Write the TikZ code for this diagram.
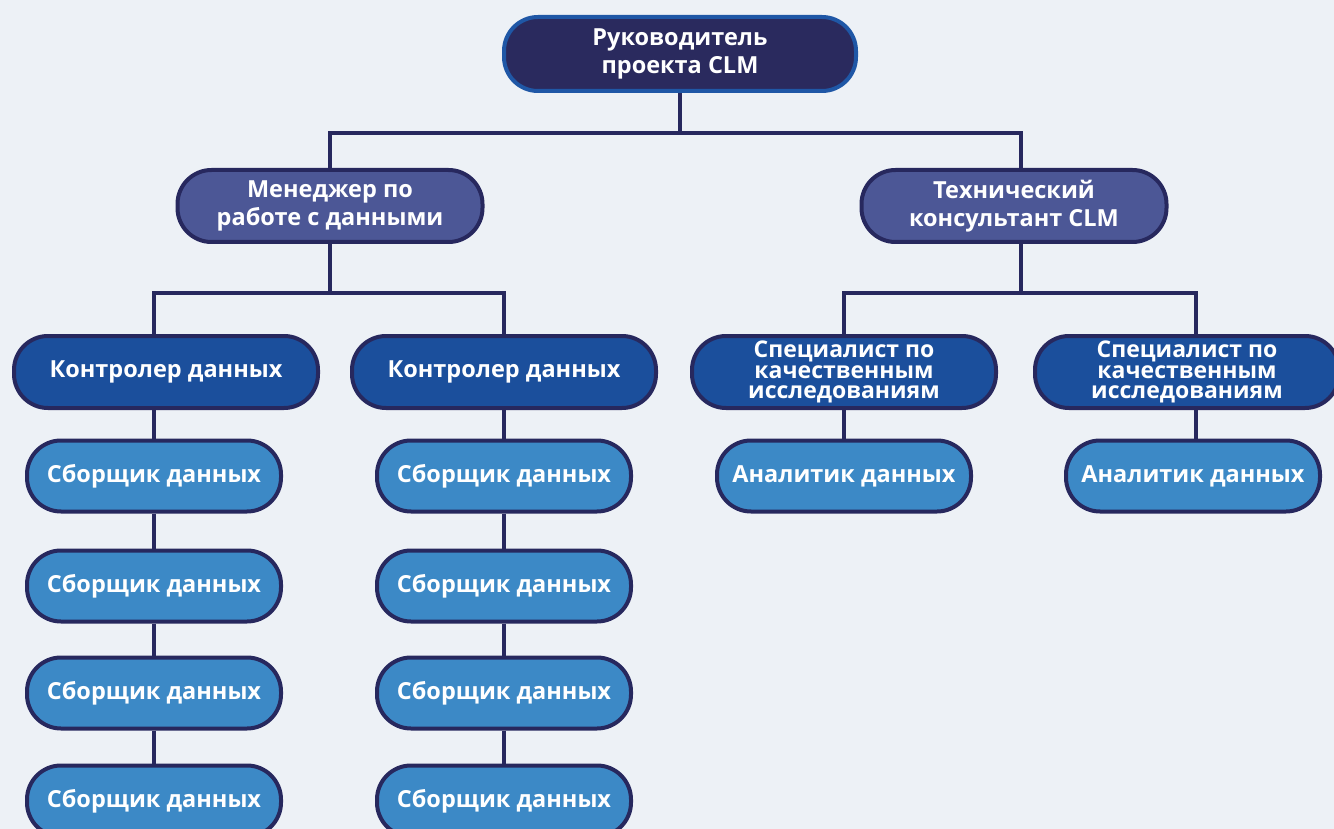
\documentclass[tikz,border=0pt]{standalone}
\usepackage{fontspec}
\setmainfont{Open Sans}
\usetikzlibrary{positioning}
\definecolor{orgBg}{HTML}{EDF1F6}
\definecolor{orgInk}{HTML}{27285E}
\definecolor{orgNavy}{HTML}{2A2A5E}
\definecolor{orgRim}{HTML}{1F57A6}
\definecolor{orgSlate}{HTML}{4C5796}
\definecolor{orgBlue}{HTML}{1B4F9C}
\definecolor{orgSky}{HTML}{3C89C6}
\tikzset{
  orgbox/.style={
    rounded corners=34pt,
    draw=orgInk,
    fill=#1,
    line width=4pt,
    align=center,
    text=white,
    inner sep=0pt,
    font=\bfseries\fontsize{23.5}{28}\selectfont
  },
  rolebox/.style={orgbox=orgBlue, minimum width=304, minimum height=72},
  workbox/.style={orgbox=orgSky, minimum width=254, minimum height=71},
  orglink/.style={draw=orgInk, line width=4.5pt}
}

\begin{document}
\begin{tikzpicture}[x=1pt,y=-1pt]
  \useasboundingbox (0,0) rectangle (1334,829);
  \clip (0,0) rectangle (1334,829);
  \fill[orgBg] (0,0) rectangle (1334,829);

  % top of the tree
  \node[orgbox=orgNavy, draw=orgRim, minimum width=352, minimum height=74] (head) at (680,54) {Руководитель\\проекта CLM};

  \node[orgbox=orgSlate, minimum width=305, minimum height=72] (mgr) at (330,206) {Менеджер по\\работе с данными};
  \node[orgbox=orgSlate, minimum width=305, minimum height=72] (tech) at (1014,206) {Технический\\консультант CLM};

  % second level
  \node[rolebox] (ctrlA) at (166,372) {Контролер данных};
  \node[rolebox] (ctrlB) at (504,372) {Контролер данных};
  \node[rolebox, font=\bfseries\fontsize{23}{20.5}\selectfont] (specA) at (844,372) {Специалист по\\качественным\\исследованиям};
  \node[rolebox, font=\bfseries\fontsize{23}{20.5}\selectfont] (specB) at (1187,372) {Специалист по\\качественным\\исследованиям};

  % workers
  \foreach \y [count=\i] in {476,586,693,801} {
    \node[workbox] (collA\i) at (154,\y) {Сборщик данных};
    \node[workbox] (collB\i) at (504,\y) {Сборщик данных};
  }
  \node[workbox] (anA) at (844,476) {Аналитик данных};
  \node[workbox] (anB) at (1193,476) {Аналитик данных};

  % buses
  \coordinate (topBus) at (680,133);
  \coordinate (mgrBus) at (330,293);
  \coordinate (techBus) at (1021,293);

  \draw[orglink] (head.south) -- (topBus);
  \draw[orglink] (mgr.north) |- (topBus) -| ([xshift=7pt]tech.north);
  \draw[orglink] (mgr.south) -- (mgrBus);
  \draw[orglink] ([xshift=-12pt]ctrlA.north) |- (mgrBus) -| (ctrlB.north);
  \draw[orglink] ([xshift=7pt]tech.south) -- (techBus);
  \draw[orglink] (specA.north) |- (techBus) -| ([xshift=9pt]specB.north);

  % chains
  \draw[orglink] ([xshift=-12pt]ctrlA.south) -- (collA1.north);
  \draw[orglink] (ctrlB.south) -- (collB1.north);
  \foreach \i/\j in {1/2,2/3,3/4} {
    \draw[orglink] (collA\i.south) -- (collA\j.north);
    \draw[orglink] (collB\i.south) -- (collB\j.north);
  }
  \draw[orglink] (specA.south) -- (anA.north);
  \draw[orglink] ([xshift=9pt]specB.south) -- ([xshift=3pt]anB.north);
\end{tikzpicture}
\end{document}
